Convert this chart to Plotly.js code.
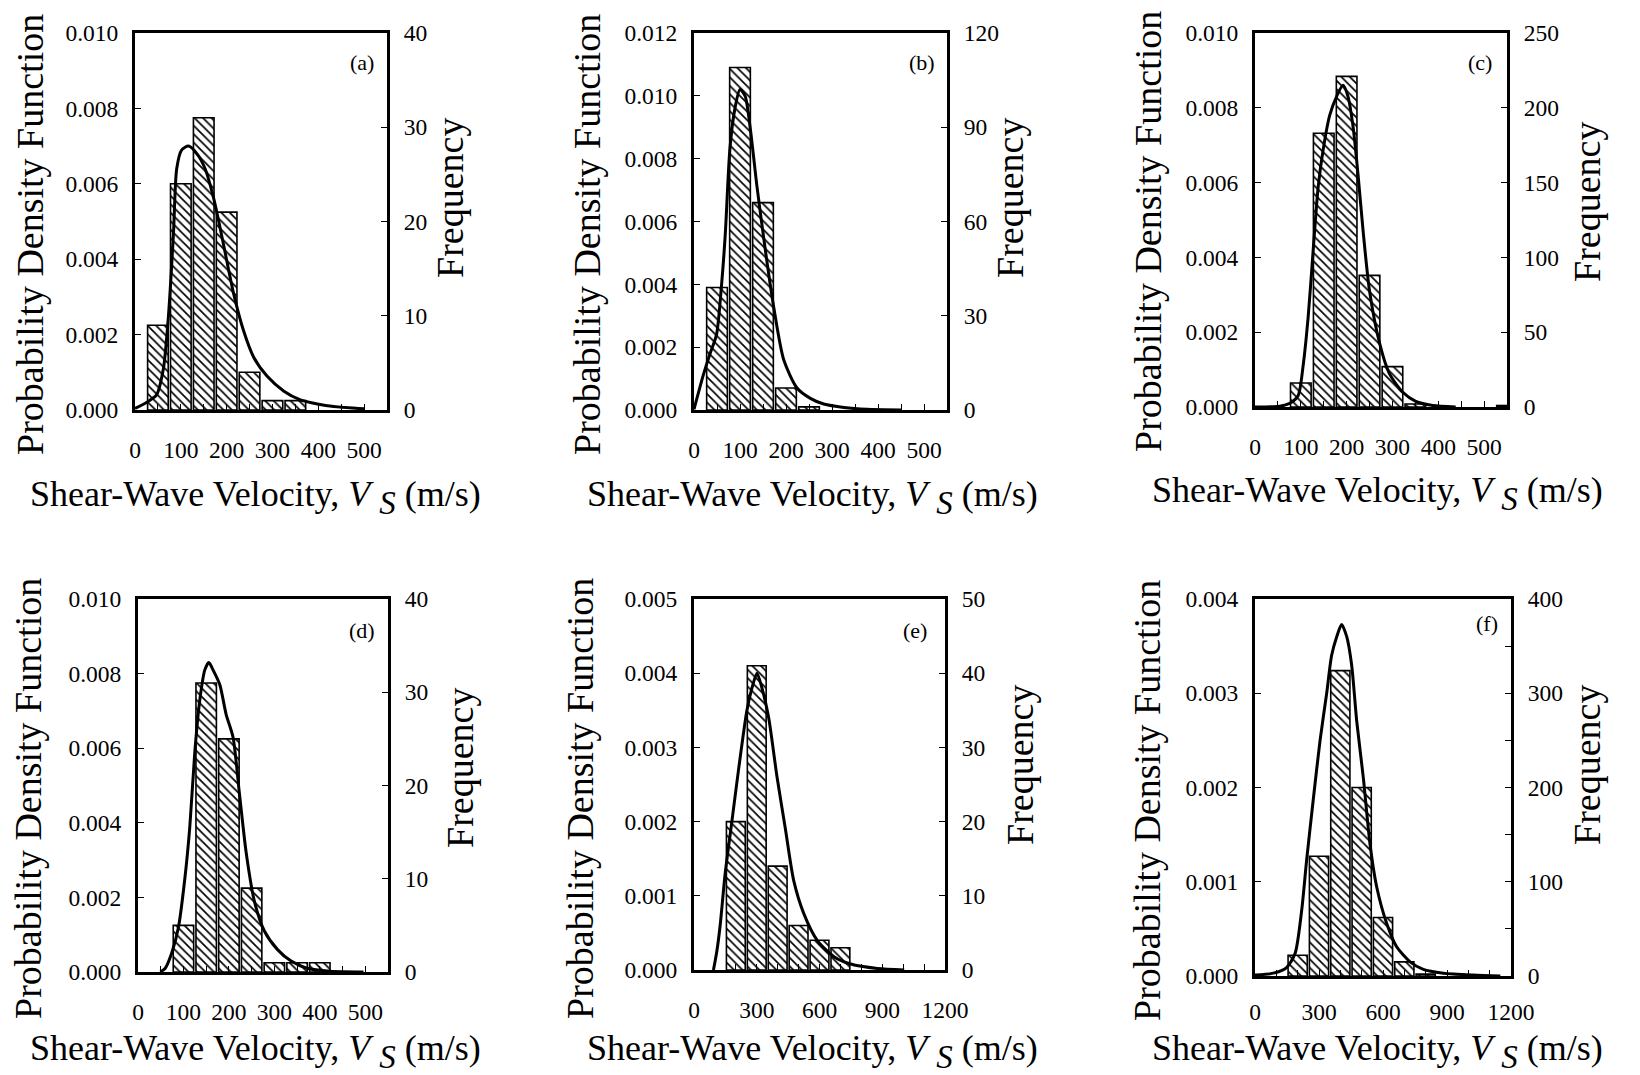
<!DOCTYPE html>
<html><head><meta charset="utf-8">
<script src="https://cdn.plot.ly/plotly-3.0.1.min.js"></script>
<style>html,body{margin:0;padding:0;background:#fff;} #chart{width:1640px;height:1075px;}</style>
</head><body><div id="chart"></div>
<script>
// ---------- data ----------
const panelLabels = ['(a)','(b)','(c)','(d)','(e)','(f)'];

// (a)
const binsA = [50,100,150,200,250,300,350];
const freqA = [9,24,31,21,4,1,1];
const pdfXA = [0,25,47,62,73,84,91,102,117,135,153,172,193,215,237,259,288,325,361,398,434,500];
const pdfYA = [0.00004,0.0002,0.0004,0.0011,0.0025,0.0047,0.0064,0.0069,0.0070,0.0068,0.0064,0.0056,0.0044,0.0031,0.0021,0.0014,0.0009,0.0005,0.00027,0.00016,0.00009,0.00003];
// (b)
const binsB = [50,100,150,200,250];
const freqB = [39,109,66,7,1];
const pdfXB = [0,20,35,49,60,68,78,89,100,111,122,137,155,173,195,224,253,282,326,376,450];
const pdfYB = [0.00002,0.0011,0.0018,0.0024,0.0040,0.0056,0.0083,0.0096,0.0102,0.0100,0.0090,0.0071,0.0051,0.0033,0.0016,0.0007,0.00037,0.00019,0.00008,0.00002,0];
// (c)
const binsC = [100,150,200,250,300,350,550];
const freqC = [16,183,221,88,27,2,1];
const pdfXC = [0,54,76,94,105,116,127,138,149,163,178,192,203,214,225,236,250,272,293,322,351,388,438];
const pdfYC = [0,0.00002,0.0001,0.0003,0.0011,0.0024,0.0042,0.0059,0.0069,0.0078,0.0083,0.0086,0.0083,0.0075,0.0062,0.0047,0.0031,0.0017,0.0009,0.0004,0.00015,0.00004,0];
// (d)
const binsD = [100,150,200,250,300,350,400];
const freqD = [5,31,25,9,1,1,1];
const pdfXD = [49,60,74,89,103,114,125,136,147,156,165,180,194,209,223,238,256,278,307,336,372,423,496];
const pdfYD = [0,0.0001,0.0005,0.0012,0.0025,0.0039,0.0059,0.0073,0.0081,0.0083,0.0081,0.0077,0.0069,0.0063,0.0048,0.0032,0.0019,0.0011,0.0006,0.0003,0.0001,0.00002,0];
// (e)
const binsE = [200,300,400,500,600,700];
const freqE = [20,41,14,6,4,3];
const pdfXE = [93,109,125,149,181,213,253,277,301,325,357,397,437,477,525,589,669,749,877,1005];
const pdfYE = [0,0.00025,0.0006,0.0013,0.0020,0.0027,0.0035,0.0038,0.0040,0.0038,0.0034,0.0026,0.0019,0.0012,0.00076,0.0004,0.00018,0.00008,0.00002,0];
// (f)
const binsF = [200,300,400,500,600,700,800];
const freqF = [22,127,324,200,62,15,2];
const pdfXF = [0,86,148,188,219,242,273,305,336,359,383,406,430,453,477,508,539,570,617,664,727,789,883,1023,1150];
const pdfYF = [0.00001,0.00003,0.00009,0.00024,0.0007,0.00123,0.00187,0.0025,0.0030,0.0034,0.0036,0.00373,0.0036,0.0033,0.0027,0.0021,0.0014,0.00095,0.00056,0.00031,0.00015,0.00007,0.00003,0.00001,0];

// axis scales
const xMax   = [550,550,550,550,1200,1200];
const xLabelStep = [100,100,100,100,300,300];
const xMinorStep = [50,50,50,50,100,100];
const pdfMax = [0.010,0.012,0.010,0.010,0.005,0.004];
const pdfStep = [0.002,0.002,0.002,0.002,0.001,0.001];
const freqMax = [40,120,250,40,50,400];
const freqLabelStep = [10,30,50,10,10,100];
const freqMinorStep = [0,0,0,0,0,50];
const binWidth = [45,45,45,45,90,90];

const allBins = [binsA,binsB,binsC,binsD,binsE,binsF];
const allFreq = [freqA,freqB,freqC,freqD,freqE,freqF];
const allPX = [pdfXA,pdfXB,pdfXC,pdfXD,pdfXE,pdfXF];
const allPY = [pdfYA,pdfYB,pdfYC,pdfYD,pdfYE,pdfYF];

// ---------- layout geometry (pixels) ----------
const W = 1640, H = 1075;
const boxes = [[135,387,33,410],[694,947,33,410],[1255,1507,33,407],[138,388,599,972],[694,945,599,970],[1255,1511,599,976]];
const xTickStandoff = [17,17,17,17,17,13];
const leftTitlePos = [[30,235],[587,235],[1148,232],[28,799],[580,799],[1147,801]];
const xTitlePos = [[255,497],[812,497],[1377,493],[255,1051],[812,1051],[1377,1051]];
const freqTitlePos = [[450,198],[1010,198],[1587,202],[460,768],[1020,765],[1587,765]];
const labelPos = [[362,62],[922,63],[1480,63],[362,630],[915,630],[1487,623]];

const FONT = '"Liberation Serif", "Times New Roman", serif';
const tickFont = {family: FONT, size: 23.5, color: '#000'};
const yTitleFont = {family: FONT, size: 38, color: '#000'};
const xTitleFont = {family: FONT, size: 36, color: '#000'};
const xTitleText = 'Shear-Wave Velocity, <i>V</i> <sub><span style="font-size:33px"><i>S</i></span></sub> (m/s)';

const traces = [];
const layout = {
  width: W, height: H, margin: {l:0, r:0, t:0, b:0},
  paper_bgcolor: '#fff', plot_bgcolor: 'rgba(0,0,0,0)',
  showlegend: false, annotations: [], font: {family: FONT, color: '#000'}
};

const minorTicks = (step) => step > 0
  ? {ticks: 'inside', ticklen: 6, tickwidth: 1, tickcolor: '#000', tick0: 0, dtick: step, showgrid: false}
  : {ticks: ''};

for (let k = 0; k < 6; k++) {
  const [l, r, t, b] = boxes[k];
  const xs = k === 0 ? '' : String(k + 1);
  const fIdx = 2 * k + 1, pIdx = 2 * k + 2;
  const fs = fIdx === 1 ? '' : String(fIdx);
  const ps = String(pIdx);
  const xref = 'x' + xs, fref = 'y' + fs, pref = 'y' + ps;

  const common = {
    ticks: 'inside', ticklen: 6, tickwidth: 1, tickcolor: '#000',
    showline: true, linewidth: 3, linecolor: '#000',
    showgrid: false, zeroline: false, tickfont: tickFont, fixedrange: true
  };

  layout['xaxis' + xs] = Object.assign({}, common, {
    domain: [l / W, r / W], range: [0, xMax[k]], anchor: fref, mirror: true,
    tickmode: 'linear', tick0: 0, dtick: xLabelStep[k],
    minor: minorTicks(xMinorStep[k]),
    ticklabelstandoff: xTickStandoff[k]
  });
  layout['yaxis' + fs] = Object.assign({}, common, {
    domain: [1 - b / H, 1 - t / H], range: [0, freqMax[k]], anchor: xref, side: 'right',
    tickmode: 'linear', tick0: 0, dtick: freqLabelStep[k],
    minor: minorTicks(freqMinorStep[k]),
    ticklabelstandoff: 9
  });
  layout['yaxis' + ps] = Object.assign({}, common, {
    range: [0, pdfMax[k]], anchor: xref, overlaying: fref, side: 'left',
    tickmode: 'linear', tick0: 0, dtick: pdfStep[k], tickformat: '.3f',
    ticklabelstandoff: 9
  });

  traces.push({
    type: 'bar', x: allBins[k], y: allFreq[k], width: binWidth[k],
    xaxis: xref, yaxis: fref, hoverinfo: 'skip',
    marker: {color: '#fff', line: {color: '#000', width: 1.6},
      pattern: {shape: '\\', fgcolor: '#000', bgcolor: '#fff', size: 6, solidity: 0.28}}
  });
  traces.push({
    type: 'scatter', mode: 'lines', x: allPX[k], y: allPY[k],
    xaxis: xref, yaxis: pref, hoverinfo: 'skip',
    line: {color: '#000', width: 3, shape: 'spline', smoothing: 0.7}
  });

  const ann = layout.annotations;
  ann.push({xref:'paper', yref:'paper', x: leftTitlePos[k][0] / W, y: 1 - leftTitlePos[k][1] / H,
    text: 'Probability Density Function', textangle: -90, showarrow: false,
    xanchor: 'center', yanchor: 'middle', font: yTitleFont});
  ann.push({xref:'paper', yref:'paper', x: freqTitlePos[k][0] / W, y: 1 - freqTitlePos[k][1] / H,
    text: 'Frequency', textangle: -90, showarrow: false,
    xanchor: 'center', yanchor: 'middle', font: yTitleFont});
  ann.push({xref:'paper', yref:'paper', x: xTitlePos[k][0] / W, y: 1 - xTitlePos[k][1] / H,
    text: xTitleText, showarrow: false,
    xanchor: 'center', yanchor: 'middle', font: xTitleFont});
  ann.push({xref:'paper', yref:'paper', x: labelPos[k][0] / W, y: 1 - labelPos[k][1] / H,
    text: panelLabels[k], showarrow: false,
    xanchor: 'center', yanchor: 'middle', font: {family: FONT, size: 22, color: '#000'}});
}

Plotly.newPlot('chart', traces, layout, {staticPlot: true, displayModeBar: false});
</script>
</body></html>
